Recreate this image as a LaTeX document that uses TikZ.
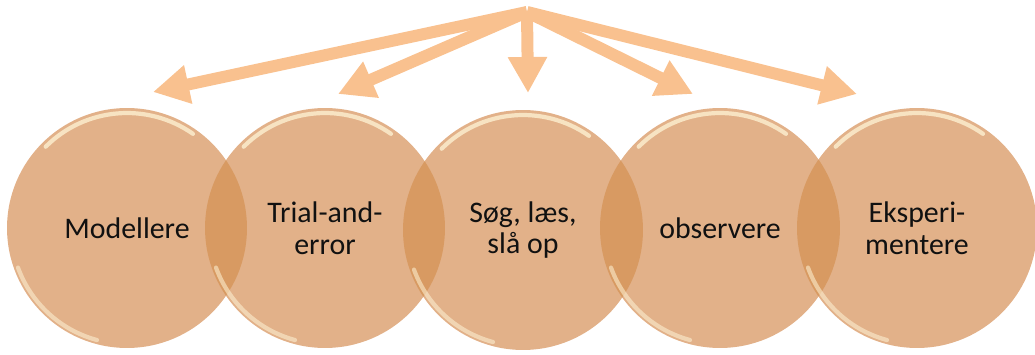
\documentclass[tikz,border=0pt]{standalone}
\usepackage{fontspec}
\setmainfont{Carlito}
\usetikzlibrary{arrows.meta}
\definecolor{discfill}{HTML}{E2B189}
\definecolor{lensfill}{HTML}{D89A62}
\definecolor{arrowc}{HTML}{F9C18F}
\definecolor{shinec}{HTML}{FFF4D6}
\definecolor{ink}{HTML}{111111}
\tikzset{
  disc/.style={circle, fill=discfill, minimum size=4.8cm, inner sep=0pt, align=center, text=ink, font=\fontsize{17}{18}\selectfont},
  pointer/.style={draw=arrowc, line width=0.24cm, line join=round, -{Triangle[length=0.72cm,width=0.74cm]}},
  shine/.style={draw=shinec, line width=2.4pt, line cap=round, opacity=0.75},
}

\begin{document}
\begin{tikzpicture}[x=0.02cm,y=-0.02cm]
  \useasboundingbox (0,0) rectangle (1035,355);
  % circles
  \node[disc] (c1) at (127,228) {Modellere};
  \node[disc] (c2) at (325,228) {Trial-and-\\error};
  \node[disc] (c3) at (523,230) {Søg, læs,\\slå op};
  \node[disc] (c4) at (720,228) {observere};
  \node[disc] (c5) at (917,228) {Eksperi-\\mentere};

  % overlaps
  \foreach \a/\b in {c1/c2,c2/c3,c3/c4,c4/c5}{
    \begin{scope}
      \clip (\a.center) circle (2.4cm);
      \fill[lensfill] (\b.center) circle (2.4cm);
    \end{scope}
  }

  % gloss
  \foreach \c in {c1,c2,c3,c4,c5}{
    \draw[shine] ([shift={(135:2.3cm)}]\c.center) arc (135:55:2.3cm);
    \draw[shine, opacity=0.55] ([shift={(200:2.32cm)}]\c.center) arc (200:255:2.32cm);
  }

  % arrows
  \coordinate (apex) at (527,12);
  \coordinate (t1) at (153,92);
  \coordinate (t2) at (338,94);
  \coordinate (t3) at (528,93);
  \coordinate (t4) at (693,94);
  \coordinate (t5) at (857,94);
  \foreach \t in {t1,t2,t3,t4,t5}
    \draw[pointer] (apex) -- (\t);
\end{tikzpicture}
\end{document}
